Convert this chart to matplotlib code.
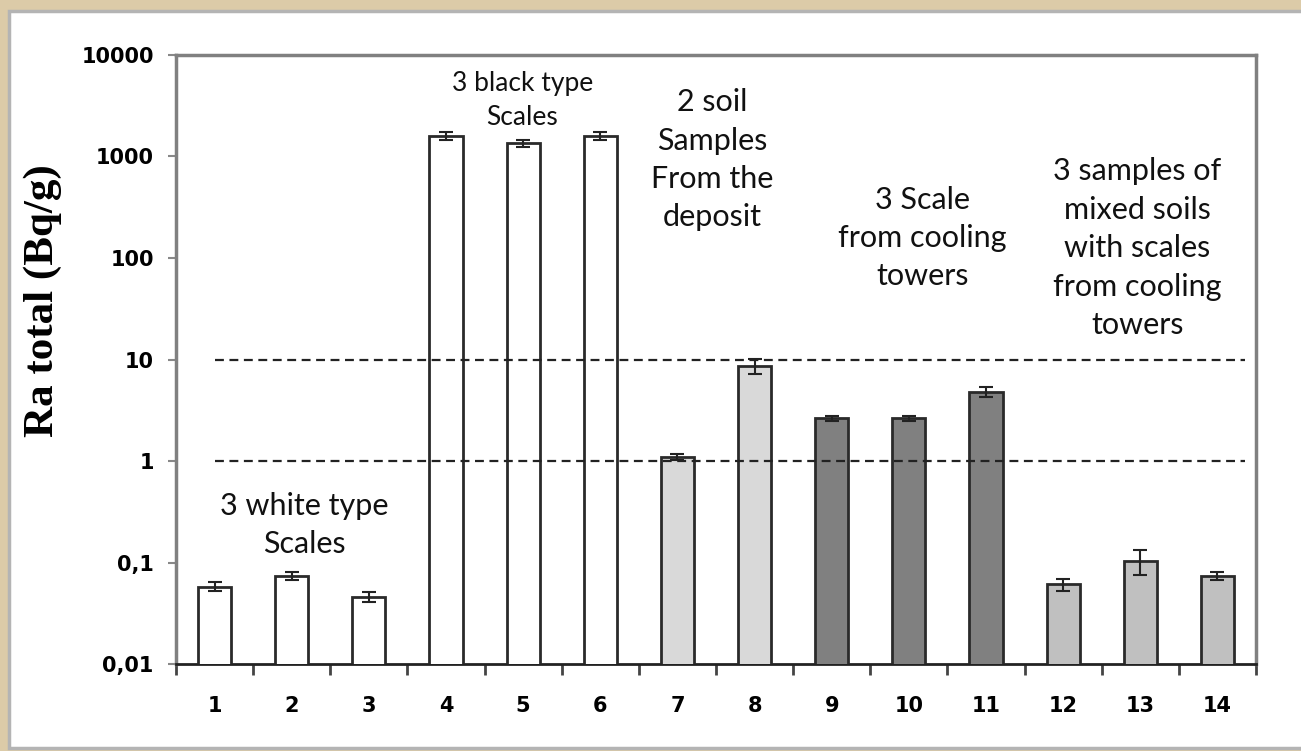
import numpy as np
import matplotlib.pyplot as plt
from matplotlib.patches import Rectangle
from matplotlib.ticker import FixedLocator, NullFormatter

# sample numbers and Ra total activity (Bq/g)
samples = ['1', '2', '3', '4', '5', '6', '7', '8', '9', '10', '11', '12', '13', '14']
ra_total = [0.058, 0.074, 0.046, 1590, 1350, 1590, 1.10, 8.7, 2.64, 2.64, 4.8, 0.061, 0.104, 0.074]
ra_err = [0.006, 0.007, 0.005, 150, 100, 150, 0.08, 1.5, 0.15, 0.15, 0.5, 0.008, 0.028, 0.007]
bar_colors = ['white'] * 6 + ['#d9d9d9'] * 2 + ['#808080'] * 3 + ['#c0c0c0'] * 3

y_ticks = [0.01, 0.1, 1, 10, 100, 1000, 10000]
y_labels = ['0,01', '0,1', '1', '10', '100', '1000', '10000']
ref_levels = [1, 10]

groups = ['3 white type\nScales', '3 black type\nScales', '2 soil\nSamples\nFrom the\ndeposit',
          '3 Scale\nfrom cooling\ntowers', '3 samples of\nmixed soils\nwith scales\nfrom cooling\ntowers']
group_x = [1.16, 3.99, 6.45, 9.18, 11.96]
group_y = [0.234, 3600, 925, 157, 125]
group_size = [22, 19, 22, 22, 22]

fig = plt.figure(figsize=(13.01, 7.51), dpi=100)
fig.patch.set_facecolor('#dccba8')
# white panel with grey frame
panel = Rectangle((0.0069, 0.004), 1.0, 0.9814, transform=fig.transFigure,
                  facecolor='white', edgecolor='#b4b4b4', linewidth=2.5, zorder=-5)
fig.add_artist(panel)

ax = fig.add_axes([0.1353, 0.1158, 0.8301, 0.811])
ax.set_zorder(2)
ax.set_facecolor('white')
x = np.arange(len(samples))

ax.bar(x, ra_total, width=0.43, color=bar_colors, edgecolor='#2a2a2a', linewidth=2, zorder=3)
ax.errorbar(x, ra_total, yerr=ra_err, fmt='none', ecolor='#222222', elinewidth=1.5,
            capsize=5, capthick=1.5, zorder=4)

for lvl in ref_levels:
    ax.plot([0, 13.36], [lvl, lvl], color='#222222', linestyle=(0, (4, 2.5)), linewidth=1.6, zorder=5)

ax.set_yscale('log')
ax.set_ylim(0.01, 10000)
ax.set_xlim(-0.5, 13.5)
ax.yaxis.set_major_locator(FixedLocator(y_ticks))
ax.yaxis.set_minor_locator(FixedLocator([]))
ax.set_yticklabels(y_labels, fontsize=15, fontweight='bold', family='DejaVu Sans')
ax.set_xticks(x)
ax.set_xticklabels(samples, fontsize=15, fontweight='bold', family='DejaVu Sans')
ax.xaxis.set_minor_locator(FixedLocator(np.arange(-0.5, 13.6, 1)))
ax.xaxis.set_minor_formatter(NullFormatter())
ax.tick_params(axis='x', which='major', length=0, pad=23)
ax.tick_params(axis='x', which='minor', length=8, width=2, color='#444444', direction='out')
ax.tick_params(axis='y', which='major', length=6, width=1.5, color='#888888', pad=10)

for side in ['top', 'right', 'left']:
    ax.spines[side].set_color('#808080')
    ax.spines[side].set_linewidth(2.5)
ax.spines['bottom'].set_color('#222222')
ax.spines['bottom'].set_linewidth(2)

ax.set_ylabel('Ra total (Bq/g)', fontsize=31, fontweight='bold', family='Liberation Serif')
ax.yaxis.set_label_coords(-0.1056, 0.596)

for txt, gx, gy, fs in zip(groups, group_x, group_y, group_size):
    ax.text(gx, gy, txt, ha='center', va='center', fontsize=fs, family='Lato',
            linespacing=1.45, color='#111111', zorder=6)

fig.savefig('out.png', dpi=100, facecolor=fig.get_facecolor())
